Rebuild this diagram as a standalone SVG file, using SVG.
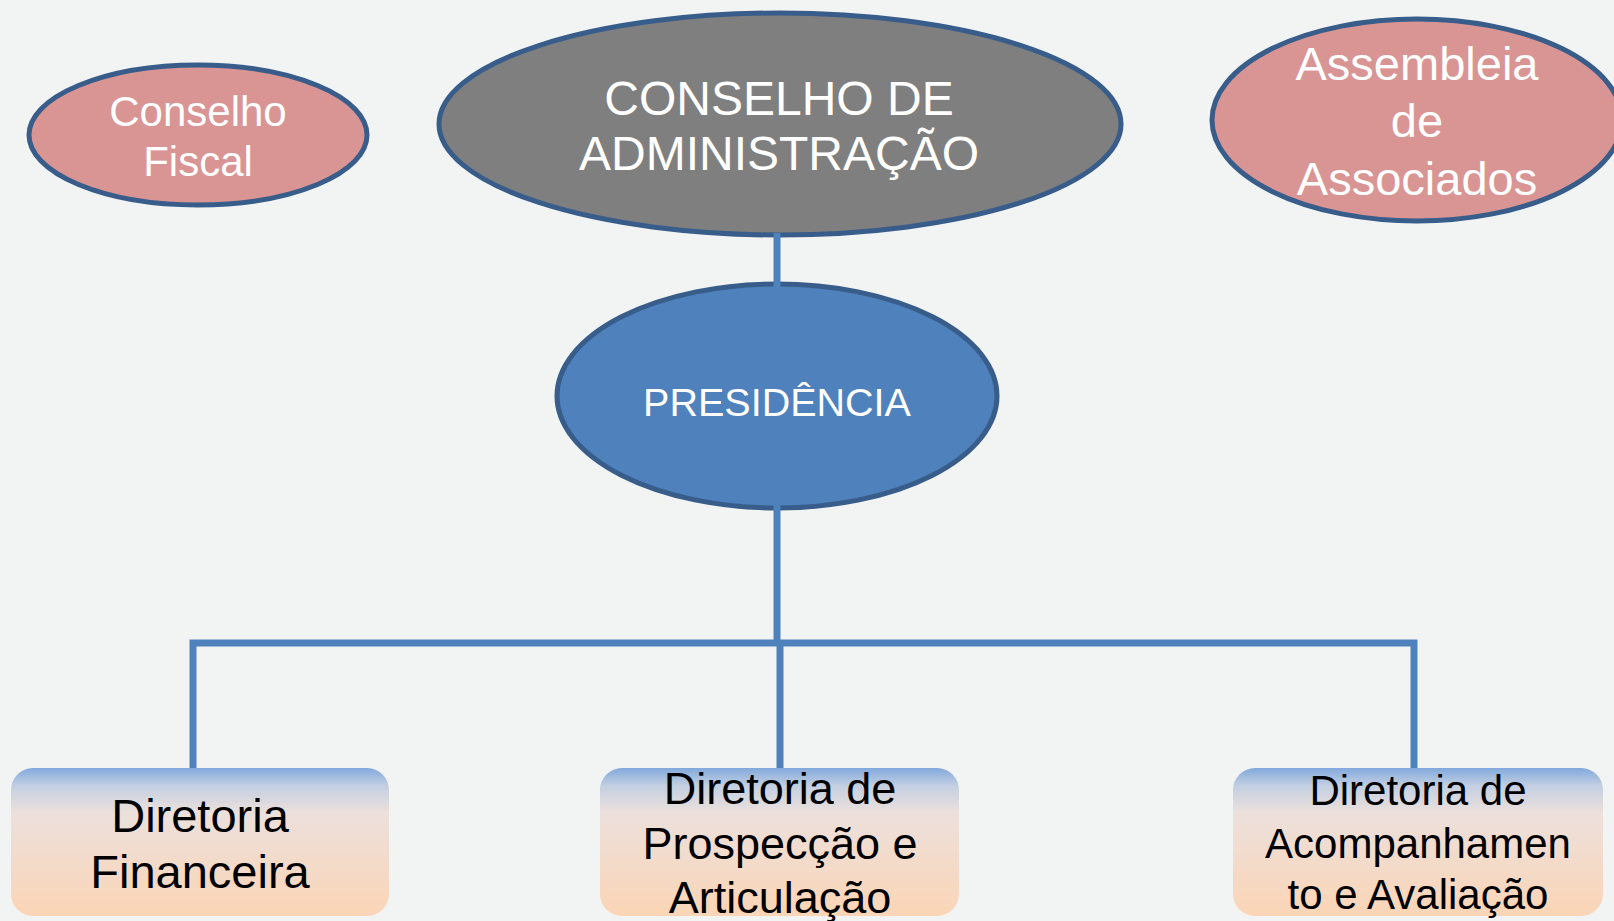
<svg xmlns="http://www.w3.org/2000/svg" width="1614" height="921" viewBox="0 0 1614 921">
<defs>
<linearGradient id="boxGrad" x1="0" y1="0" x2="0" y2="1">
<stop offset="0" stop-color="#82a9dc"/>
<stop offset="0.12" stop-color="#c3cfe2"/>
<stop offset="0.3" stop-color="#ece0dc"/>
<stop offset="1" stop-color="#fbd5b6"/>
</linearGradient>
<style>
.oval{stroke:#385d8a;stroke-width:5}
.pink{fill:#d99594}
.wt{fill:#ffffff;font-family:"Liberation Sans",Arial,sans-serif;text-anchor:middle}
.bt{fill:#000000;font-family:"Liberation Sans",Arial,sans-serif;text-anchor:middle}
.box{fill:url(#boxGrad)}
.conn{stroke:#4f81bd;stroke-width:7;fill:none}
</style>
</defs>
<rect x="0" y="0" width="1614" height="921" fill="#f2f3f3"/>
<g id="conselho-fiscal">
<ellipse class="oval pink" cx="198" cy="135" rx="169" ry="70"/>
<text class="wt" font-size="42" x="198" y="126">Conselho</text>
<text class="wt" font-size="42" x="198" y="176">Fiscal</text>
</g>
<g id="conselho-administracao">
<ellipse class="oval" fill="#7f7f7f" cx="780" cy="124" rx="341" ry="111"/>
<text class="wt" font-size="48" x="779" y="115">CONSELHO DE</text>
<text class="wt" font-size="48" x="779" y="170">ADMINISTRAÇÃO</text>
</g>
<g id="assembleia">
<ellipse class="oval pink" cx="1417" cy="120" rx="205" ry="101"/>
<text class="wt" font-size="47" x="1417" y="80">Assembleia</text>
<text class="wt" font-size="47" x="1417" y="137">de</text>
<text class="wt" font-size="47" x="1417" y="195">Associados</text>
</g>
<g id="presidencia">
<ellipse class="oval" fill="#4f81bd" cx="777" cy="396" rx="220" ry="112"/>
<text class="wt" font-size="39.5" x="777" y="416">PRESIDÊNCIA</text>
</g>
<g id="connectors">
<line class="conn" x1="777" y1="233" x2="777" y2="287"/>
<line class="conn" x1="777" y1="469" x2="777" y2="643"/>
<polyline class="conn" points="193,770 193,643 1414,643 1414,770"/>
<line class="conn" x1="780" y1="643" x2="780" y2="770"/>
</g>
<g id="diretoria-financeira">
<rect class="box" x="11" y="768" width="378" height="148" rx="22"/>
<text class="bt" font-size="47" x="200" y="832">Diretoria</text>
<text class="bt" font-size="47" x="200" y="888">Financeira</text>
</g>
<g id="diretoria-prospeccao">
<rect class="box" x="600" y="768" width="359" height="148" rx="22"/>
<text class="bt" font-size="45" x="780" y="804">Diretoria de</text>
<text class="bt" font-size="45" x="780" y="859">Prospecção e</text>
<text class="bt" font-size="45" x="780" y="913">Articulação</text>
</g>
<g id="diretoria-acompanhamento">
<rect class="box" x="1233" y="768" width="370" height="148" rx="22"/>
<text class="bt" font-size="42" x="1418" y="805">Diretoria de</text>
<text class="bt" font-size="42" x="1418" y="858">Acompanhamen</text>
<text class="bt" font-size="42" x="1418" y="909">to e Avaliação</text>
</g>
</svg>
